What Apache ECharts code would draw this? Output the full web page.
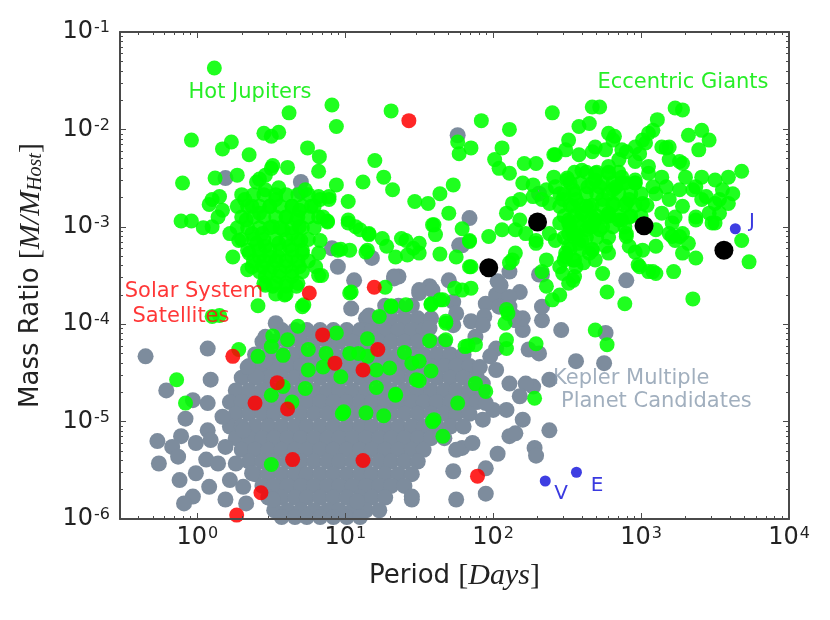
<!DOCTYPE html>
<html lang="en">
<head>
<meta charset="UTF-8">
<script src="https://cdn.jsdelivr.net/npm/echarts@6/dist/echarts.min.js"></script>
<style>
  html, body { margin: 0; padding: 0; background: #fff; }
  #chart { width: 830px; height: 620px; }
</style>
</head>
<body>
<div id="chart"></div>
<script>
// every pair is [log10(period in days), log10(mass ratio)]

// Kepler multiple planet candidates (grey)
var keplerCandidates = [
  [1.27,-3.81],[1.36,-3.81],[1.45,-3.81],
  [1.14,-3.94],[1.23,-3.94],[1.31,-3.94],[1.40,-3.94],[1.49,-3.94],[1.58,-3.94],
  [0.57,-4.06],[0.66,-4.06],[0.74,-4.06],[0.83,-4.06],[0.92,-4.06],[1.01,-4.06],[1.10,-4.06],[1.18,-4.06],[1.27,-4.06],[1.36,-4.06],[1.45,-4.06],[1.53,-4.06],
  [0.44,-4.18],[0.52,-4.18],[0.61,-4.18],[0.70,-4.18],[0.79,-4.18],[0.88,-4.18],[0.96,-4.18],[1.05,-4.18],[1.14,-4.18],[1.23,-4.18],[1.31,-4.18],[1.40,-4.18],[1.49,-4.18],[1.58,-4.18],[1.67,-4.18],
  [0.39,-4.31],[0.48,-4.31],[0.57,-4.31],[0.66,-4.31],[0.74,-4.31],[0.83,-4.31],[0.92,-4.31],[1.01,-4.31],[1.10,-4.31],[1.18,-4.31],[1.27,-4.31],[1.36,-4.31],[1.45,-4.31],[1.53,-4.31],[1.62,-4.31],[1.71,-4.31],[1.80,-4.31],
  [0.35,-4.43],[0.44,-4.43],[0.52,-4.43],[0.61,-4.43],[0.70,-4.43],[0.79,-4.43],[0.88,-4.43],[0.96,-4.43],[1.05,-4.43],[1.14,-4.43],[1.23,-4.43],[1.31,-4.43],[1.40,-4.43],[1.49,-4.43],[1.58,-4.43],[1.67,-4.43],[1.75,-4.43],[1.84,-4.43],
  [0.30,-4.55],[0.39,-4.55],[0.48,-4.55],[0.57,-4.55],[0.66,-4.55],[0.74,-4.55],[0.83,-4.55],[0.92,-4.55],[1.01,-4.55],[1.10,-4.55],[1.18,-4.55],[1.27,-4.55],[1.36,-4.55],[1.45,-4.55],[1.53,-4.55],[1.62,-4.55],[1.71,-4.55],[1.80,-4.55],[1.89,-4.55],
  [0.26,-4.68],[0.35,-4.68],[0.44,-4.68],[0.52,-4.68],[0.61,-4.68],[0.70,-4.68],[0.79,-4.68],[0.88,-4.68],[0.96,-4.68],[1.05,-4.68],[1.14,-4.68],[1.23,-4.68],[1.31,-4.68],[1.40,-4.68],[1.49,-4.68],[1.58,-4.68],[1.67,-4.68],[1.75,-4.68],[1.84,-4.68],[1.93,-4.68],
  [0.22,-4.80],[0.30,-4.80],[0.39,-4.80],[0.48,-4.80],[0.57,-4.80],[0.66,-4.80],[0.74,-4.80],[0.83,-4.80],[0.92,-4.80],[1.01,-4.80],[1.10,-4.80],[1.18,-4.80],[1.27,-4.80],[1.36,-4.80],[1.45,-4.80],[1.53,-4.80],[1.62,-4.80],[1.71,-4.80],[1.80,-4.80],[1.89,-4.80],
  [0.26,-4.92],[0.35,-4.92],[0.44,-4.92],[0.52,-4.92],[0.61,-4.92],[0.70,-4.92],[0.79,-4.92],[0.88,-4.92],[0.96,-4.92],[1.05,-4.92],[1.14,-4.92],[1.23,-4.92],[1.31,-4.92],[1.40,-4.92],[1.49,-4.92],[1.58,-4.92],[1.67,-4.92],[1.75,-4.92],[1.84,-4.92],
  [0.22,-5.05],[0.30,-5.05],[0.39,-5.05],[0.48,-5.05],[0.57,-5.05],[0.66,-5.05],[0.74,-5.05],[0.83,-5.05],[0.92,-5.05],[1.01,-5.05],[1.10,-5.05],[1.18,-5.05],[1.27,-5.05],[1.36,-5.05],[1.45,-5.05],[1.53,-5.05],[1.62,-5.05],[1.71,-5.05],[1.80,-5.05],
  [0.26,-5.17],[0.35,-5.17],[0.44,-5.17],[0.52,-5.17],[0.61,-5.17],[0.70,-5.17],[0.79,-5.17],[0.88,-5.17],[0.96,-5.17],[1.05,-5.17],[1.14,-5.17],[1.23,-5.17],[1.31,-5.17],[1.40,-5.17],[1.49,-5.17],[1.58,-5.17],[1.67,-5.17],
  [0.30,-5.29],[0.39,-5.29],[0.48,-5.29],[0.57,-5.29],[0.66,-5.29],[0.74,-5.29],[0.83,-5.29],[0.92,-5.29],[1.01,-5.29],[1.10,-5.29],[1.18,-5.29],[1.27,-5.29],[1.36,-5.29],[1.45,-5.29],[1.53,-5.29],
  [0.35,-5.41],[0.44,-5.41],[0.52,-5.41],[0.61,-5.41],[0.70,-5.41],[0.79,-5.41],[0.88,-5.41],[0.96,-5.41],[1.05,-5.41],[1.14,-5.41],[1.23,-5.41],[1.31,-5.41],[1.40,-5.41],[1.49,-5.41],
  [0.39,-5.54],[0.48,-5.54],[0.57,-5.54],[0.66,-5.54],[0.74,-5.54],[0.83,-5.54],[0.92,-5.54],[1.01,-5.54],[1.10,-5.54],[1.18,-5.54],[1.27,-5.54],[1.36,-5.54],[1.45,-5.54],
  [0.44,-5.66],[0.52,-5.66],[0.61,-5.66],[0.70,-5.66],[0.79,-5.66],[0.88,-5.66],[0.96,-5.66],[1.05,-5.66],[1.14,-5.66],[1.23,-5.66],[1.31,-5.66],[1.40,-5.66],
  [0.48,-5.78],[0.57,-5.78],[0.66,-5.78],[0.74,-5.78],[0.83,-5.78],[0.92,-5.78],[1.01,-5.78],[1.10,-5.78],[1.18,-5.78],[1.27,-5.78],
  [0.52,-5.91],[0.61,-5.91],[0.70,-5.91],[0.79,-5.91],[0.88,-5.91],[0.96,-5.91],[1.05,-5.91],[1.14,-5.91],[1.23,-5.91],
  [0.57,-5.98],[0.66,-5.98],[0.74,-5.98],[0.83,-5.98],[0.92,-5.98],[1.01,-5.98],[1.10,-5.98],
  // scattered candidates, left side
  [-0.35,-4.33],[0.07,-4.25],[0.09,-4.57],[-0.21,-4.68],[-0.03,-4.78],[0.07,-4.81],[-0.08,-4.97],[-0.27,-5.20],
  [-0.11,-5.15],[-0.17,-5.26],[-0.01,-5.22],[0.07,-5.09],[0.09,-5.19],[-0.26,-5.43],[-0.13,-5.36],[0.06,-5.39],
  [-0.01,-5.53],[-0.12,-5.60],[0.08,-5.67],[-0.03,-5.77],[-0.09,-5.84],[0.19,-5.80],[0.22,-5.60],[0.17,-4.95],
  [0.19,-5.26],[0.14,-5.43],[0.31,-5.09],[0.26,-5.43],[0.31,-5.67],[0.37,-5.53],[0.51,-5.80],[0.33,-5.84],
  [0.40,-4.54],[0.34,-4.44],[0.46,-4.37],[0.53,-3.99],[0.46,-4.13],[1.04,-3.84],[1.08,-5.82],
  // scattered candidates, right side
  [1.73,-5.51],[1.95,-5.48],[1.95,-5.74],[1.75,-5.80],[1.45,-5.80],[1.79,-5.27],[2.03,-5.33],[2.11,-5.15],
  [2.15,-5.12],[2.38,-5.09],[2.28,-5.27],[2.29,-5.35],[2.56,-4.38],[2.75,-4.40],[2.46,-4.06],[2.76,-4.09],
  [2.38,-4.57],[2.27,-4.64],[2.24,-4.26],[2.31,-4.30],[2.20,-4.06],[2.15,-3.96],[2.11,-3.82],[1.95,-3.79],
  [2.33,-3.96],[2.20,-3.94],[2.33,-3.82],[2.18,-3.67],[2.03,-3.56],[2.02,-3.70],[2.11,-3.72],[2.11,-3.46],
  [2.14,-3.92],[2.04,-3.82],[1.94,-3.92],[1.85,-3.97],[1.93,-4.01],[1.73,-4.01],[1.57,-4.04],[1.73,-3.77],
  [1.75,-3.89],[1.50,-3.68],[1.57,-3.61],[1.70,-3.55],[1.79,-3.19],[1.36,-3.51],[1.88,-4.13],[2.02,-4.25],
  [1.98,-4.33],[1.91,-4.44],[2.02,-4.47],[1.93,-4.61],[2.11,-4.61],[2.22,-4.61],[2.18,-4.74],[2.09,-4.88],
  [2.00,-4.88],[2.20,-4.98],[1.95,-4.81],[1.93,-4.98],[1.86,-5.22],[1.75,-5.29],[1.45,-5.77],[1.33,-3.51],
  [1.50,-3.65],[1.59,-3.65],[2.31,-3.49],[1.06,-3.55],[2.05,-3.60],
  // candidates among the giants
  [1.76,-2.06],[1.84,-2.91],[1.77,-3.19],[2.31,-2.66],[2.33,-3.49],[2.90,-3.55],[0.19,-2.50],[0.70,-2.54],
  [0.70,-2.64],[0.91,-3.22],[0.95,-3.41],[1.18,-3.32],[1.33,-3.53],[1.16,-3.91]
];

// radial velocity planets (green)
var rvPlanets = [
  [0.115,-1.37],[0.91,-1.75],[0.62,-1.83],[0.94,-1.97],[1.31,-1.81],[-0.04,-2.11],[0.23,-2.13],[0.17,-2.20],
  [0.45,-2.04],[0.55,-2.03],[0.50,-2.07],[0.35,-2.26],[0.745,-2.19],[0.825,-2.28],[0.82,-2.43],[1.20,-2.32],
  [1.26,-2.49],[1.12,-2.54],[1.32,-2.62],[0.94,-2.57],[0.61,-2.39],[0.51,-2.37],[-0.10,-2.55],[0.12,-2.50],
  [0.27,-2.47],[0.40,-2.54],[0.46,-2.47],[1.02,-2.74],[1.47,-2.74],[-0.11,-2.94],[-0.04,-2.94],[0.04,-3.01],
  [0.08,-2.77],[0.15,-2.69],[0.22,-3.07],[0.24,-3.31],[0.34,-3.44],[0.41,-3.81],[0.59,-3.70],[0.72,-3.80],
  [0.89,-2.72],[1.02,-2.93],[1.10,-3.03],[1.16,-3.08],[1.25,-3.12],[1.28,-3.20],[1.38,-3.12],[1.34,-3.31],
  [1.15,-3.24],[0.97,-3.23],[1.46,-3.22],[1.03,-3.68],[1.27,-3.62],[1.31,-3.81],[1.41,-3.80],[0.84,-3.50],
  [0.83,-3.14],[0.88,-2.94],[0.83,-2.72],
  [0.42,-2.51],[0.50,-2.40],[0.10,-2.72],[0.17,-2.83],[0.14,-2.90],[0.10,-3.00],[0.32,-2.72],[0.37,-2.79],
  [0.46,-2.62],[0.55,-2.60],[0.53,-2.72],[0.64,-2.79],[0.73,-2.62],[0.77,-2.79],[0.82,-2.69],[0.89,-2.69],
  [0.85,-2.90],[0.88,-2.95],[0.67,-2.93],[0.60,-2.90],[0.42,-2.86],[0.33,-2.93],[0.37,-3.07],[0.44,-3.07],
  [0.51,-3.00],[0.58,-3.03],[0.64,-3.07],[0.69,-3.00],[0.70,-3.14],[0.62,-3.20],[0.55,-3.17],[0.46,-3.20],
  [0.40,-3.17],[0.35,-3.27],[0.42,-3.31],[0.49,-3.31],[0.55,-3.31],[0.64,-3.31],[0.71,-3.27],[0.82,-3.27],
  [0.80,-3.41],[0.69,-3.41],[0.60,-3.41],[0.51,-3.41],[0.44,-3.41],[0.46,-3.51],[0.55,-3.51],[0.64,-3.51],
  [0.60,-3.61],[0.51,-3.61],[0.46,-3.60],[0.67,-3.61],[0.28,-3.14],[0.37,-3.41],[0.69,-2.83],[0.49,-2.79],
  [0.95,-3.24],[1.03,-3.24],[1.07,-3.00],[0.82,-3.50],
  // dense hot Jupiter core
  [0.30,-2.67],[0.38,-2.67],[0.45,-2.67],[0.53,-2.67],[0.60,-2.67],[0.68,-2.67],[0.75,-2.67],
  [0.27,-2.79],[0.34,-2.79],[0.42,-2.79],[0.49,-2.79],[0.56,-2.79],[0.64,-2.79],[0.71,-2.79],[0.79,-2.79],
  [0.30,-2.90],[0.38,-2.90],[0.45,-2.90],[0.53,-2.90],[0.60,-2.90],[0.68,-2.90],[0.75,-2.90],[0.82,-2.90],
  [0.27,-3.01],[0.34,-3.01],[0.42,-3.01],[0.49,-3.01],[0.56,-3.01],[0.64,-3.01],[0.71,-3.01],[0.79,-3.01],
  [0.30,-3.13],[0.38,-3.13],[0.45,-3.13],[0.53,-3.13],[0.60,-3.13],[0.68,-3.13],[0.75,-3.13],
  [0.34,-3.24],[0.42,-3.24],[0.49,-3.24],[0.56,-3.24],[0.64,-3.24],[0.71,-3.24],
  [0.38,-3.35],[0.45,-3.35],[0.53,-3.35],[0.60,-3.35],[0.68,-3.35],[0.75,-3.35],
  [0.42,-3.46],[0.49,-3.46],[0.56,-3.46],[0.64,-3.46],[0.71,-3.46],
  [0.45,-3.58],[0.53,-3.58],[0.60,-3.58],[0.68,-3.58],
  [0.53,-3.69],[0.60,-3.69],
  // between the groups and eccentric giants
  [1.92,-1.91],[2.11,-2.00],[2.40,-1.83],[1.76,-2.13],[1.77,-2.25],[1.85,-2.19],[2.06,-2.19],[2.01,-2.31],
  [2.04,-2.40],[2.11,-2.45],[2.21,-2.35],[2.29,-2.35],[2.20,-2.55],[2.27,-2.57],[2.41,-2.26],[2.41,-2.49],
  [2.50,-2.52],[1.73,-2.57],[1.64,-2.66],[1.56,-2.76],[1.70,-2.86],[1.59,-2.98],[1.61,-3.08],[1.64,-3.28],
  [1.75,-3.31],[1.79,-3.02],[1.84,-3.14],[1.85,-3.41],[1.97,-3.10],[2.06,-3.03],[2.09,-2.86],[2.13,-2.76],
  [2.18,-2.93],[2.22,-3.07],[2.11,-3.37],[2.15,-3.27],[2.29,-3.14],[2.36,-3.34],[2.36,-3.61],[2.40,-3.75],
  [1.79,-3.65],[1.66,-3.75],[1.58,-3.79],[2.10,-3.89],[2.47,-3.48],[2.42,-3.14],[2.51,-3.07],[2.67,-1.77],
  [2.72,-1.77],[2.58,-1.97],[2.51,-2.11],[2.69,-2.18],[2.78,-2.04],[2.82,-2.07],[2.87,-2.21],[2.78,-2.38],
  [2.60,-2.42],[2.69,-2.52],[2.87,-2.49],[2.96,-2.18],[3.01,-2.11],[3.05,-2.04],[3.11,-1.90],[3.23,-1.78],
  [3.28,-1.80],[3.32,-2.06],[3.41,-2.01],[3.46,-2.11],[3.39,-2.21],[3.14,-2.18],[3.19,-2.18],[3.28,-2.35],
  [3.19,-2.31],[3.14,-2.49],[3.05,-2.45],[2.96,-2.55],[3.30,-2.49],[3.37,-2.59],[3.41,-2.49],[3.50,-2.52],
  [3.59,-2.49],[3.68,-2.43],[3.62,-2.66],[3.55,-2.62],[3.59,-2.76],[3.50,-2.76],[3.41,-2.72],[3.46,-2.86],
  [3.37,-2.90],[3.28,-2.79],[3.23,-2.90],[3.19,-2.72],[3.10,-2.66],[3.14,-2.86],[3.28,-3.07],[3.23,-3.14],
  [3.19,-3.07],[3.28,-3.27],[3.37,-3.32],[3.32,-3.17],[3.10,-3.03],[3.10,-3.20],[3.01,-3.24],[2.92,-3.20],
  [2.90,-3.07],[2.87,-2.93],[3.50,-2.96],[3.68,-3.14],[3.73,-3.36],[3.35,-3.74],[3.22,-3.46],[3.10,-3.48],
  [3.05,-3.46],[2.99,-3.41],[2.89,-3.79],[2.77,-3.67],[2.74,-3.48],[2.69,-3.34],[2.78,-3.27],[2.65,-3.27],
  [2.60,-3.14],[2.51,-2.93],[2.56,-2.72],[2.65,-2.79],[2.74,-2.72],[2.78,-2.86],[2.69,-2.93],[2.60,-2.86],
  [2.47,-2.72],[2.42,-2.59],[2.38,-2.76],[2.33,-2.72],[2.49,-3.27],[2.56,-3.41],[2.51,-3.58],[2.83,-2.59],
  [2.92,-2.72],[3.01,-2.76],[2.65,-3.00],[2.56,-3.07],
  [2.65,-1.94],[2.81,-2.11],[3.08,-2.01],[3.03,-2.14],[3.17,-2.19],[2.99,-2.25],[2.90,-2.23],[2.76,-2.21],
  [2.67,-2.23],[2.58,-2.26],[2.49,-2.21],[2.42,-2.26],[2.50,-2.50],[2.69,-2.45],[2.78,-2.45],[2.85,-2.31],
  [2.96,-2.33],[3.05,-2.38],[3.26,-2.33],[3.53,-2.72],[3.44,-2.69],[3.35,-2.62],[3.26,-2.62],[3.17,-2.59],
  [3.08,-2.59],[2.96,-2.52],[2.87,-2.55],[2.81,-2.62],[2.72,-2.59],[2.64,-2.59],[2.54,-2.62],[2.45,-2.66],
  [2.36,-2.62],[2.27,-2.69],[2.18,-2.72],[2.15,-3.03],[2.29,-3.17],[2.38,-3.07],[2.45,-2.96],[2.45,-2.79],
  [2.54,-2.79],[2.63,-2.79],[2.81,-2.76],[2.90,-2.76],[2.92,-2.90],[2.85,-2.93],[2.76,-2.90],[2.67,-2.90],
  [2.58,-2.93],[2.51,-2.96],[2.54,-3.07],[2.63,-3.03],[2.72,-3.03],[2.58,-3.17],[2.51,-3.20],[2.49,-3.31],
  [2.45,-3.41],[2.33,-3.46],[2.54,-3.34],[2.67,-3.24],[2.76,-3.20],[2.90,-3.10],[2.96,-3.26],[3.21,-3.10],
  [3.21,-2.96],[3.26,-3.10],[3.48,-2.96],[3.37,-2.93],[3.53,-2.86],[2.98,-3.39],[3.08,-3.46],[2.55,-3.51],
  // dense eccentric giant core
  [2.55,-2.44],[2.63,-2.44],[2.70,-2.44],[2.78,-2.44],[2.85,-2.44],
  [2.52,-2.55],[2.59,-2.55],[2.67,-2.55],[2.74,-2.55],[2.81,-2.55],[2.89,-2.55],[2.96,-2.55],
  [2.48,-2.66],[2.55,-2.66],[2.63,-2.66],[2.70,-2.66],[2.78,-2.66],[2.85,-2.66],[2.93,-2.66],[3.00,-2.66],
  [2.52,-2.78],[2.59,-2.78],[2.67,-2.78],[2.74,-2.78],[2.81,-2.78],[2.89,-2.78],[2.96,-2.78],[3.04,-2.78],
  [2.48,-2.89],[2.55,-2.89],[2.63,-2.89],[2.70,-2.89],[2.78,-2.89],[2.85,-2.89],[2.93,-2.89],[3.00,-2.89],
  [2.52,-3.00],[2.59,-3.00],[2.67,-3.00],[2.74,-3.00],[2.81,-3.00],[2.89,-3.00],
  [2.48,-3.11],[2.55,-3.11],[2.63,-3.11],[2.70,-3.11],[2.78,-3.11],
  [2.52,-3.23],[2.59,-3.23],[2.67,-3.23],
  [2.48,-3.34],[2.55,-3.34],
  // lower mass planets among the Kepler candidates
  [0.71,-3.82],[0.68,-4.02],[0.51,-4.12],[0.61,-4.16],[0.50,-4.23],[0.28,-4.26],[0.41,-4.33],[0.58,-4.32],
  [0.75,-4.26],[0.75,-4.47],[0.87,-4.30],[0.94,-4.09],[1.03,-4.30],[0.85,-4.44],[0.97,-4.54],[0.73,-4.66],
  [0.58,-4.64],[0.50,-4.73],[0.64,-4.80],[-0.14,-4.57],[-0.08,-4.81],[0.99,-4.90],[0.50,-5.44],[0.15,-3.91],
  [0.10,-3.92],[1.15,-4.15],[1.23,-3.92],[1.31,-3.82],[1.40,-4.29],[1.30,-4.45],[1.21,-4.65],[1.34,-4.73],
  [1.14,-4.91],[1.26,-4.94],[0.98,-4.92],[1.09,-4.30],[1.48,-4.57],[1.15,-4.33],[1.45,-4.40],[1.50,-4.38],
  [1.58,-4.48],[1.57,-4.17],[1.68,-4.16],[1.68,-3.99],[1.83,-4.22],[1.88,-4.21],[1.88,-4.61],[1.95,-4.69],
  [1.76,-4.81],[1.59,-5.00],[1.66,-5.15],[1.50,-4.58],[1.34,-4.72],[1.21,-4.47],
  [1.02,-2.96],[1.16,-3.07],[1.50,-3.17],[1.14,-3.26],[1.42,-3.29],[1.50,-3.27],[1.60,-2.98],[1.84,-3.15],
  [2.13,-3.34],[2.45,-3.70],[2.54,-3.55],[2.61,-3.37],[1.84,-3.41],[1.85,-3.63],[1.74,-3.63],[1.64,-3.75],
  [1.58,-3.80],[1.04,-3.67],[1.68,-3.97],[2.09,-3.85],[2.09,-4.16],[2.09,-4.25],[1.81,-4.23],[2.29,-4.20],
  [2.28,-4.76],[1.60,-4.98],[1.41,-3.14],[2.69,-4.06],[2.77,-4.21],[2.08,-3.99]
];

// solar system satellites (red)
var satellites = [
  [1.43,-1.91],[0.757,-3.68],[1.196,-3.62],[0.847,-4.11],[0.24,-4.33],[0.93,-4.40],[0.54,-4.60],[0.39,-4.81],
  [0.61,-4.87],[0.644,-5.39],[0.43,-5.73],[0.266,-5.96],[1.22,-4.26],[1.12,-4.47],[1.12,-5.40],[1.894,-5.56]
];

// large black markers
var blackPlanets = [[1.97,-3.42],[2.30,-2.95],[3.02,-2.99],[3.56,-3.24]];

// Venus, Earth, Jupiter (blue)
var solarPlanets = [[2.352,-5.61],[2.563,-5.52],[3.637,-3.02]];

var periodDecades = [1, 10, 100, 1000, 10000];
var massDecades = [1e-6, 1e-5, 1e-4, 1e-3, 1e-2, 1e-1];
var periodMin = 0.3, periodMax = 1e4;
var massMin = 1e-6, massMax = 0.1;

var chart = echarts.init(document.getElementById('chart'));

function toValues(pairs) {
  return pairs.map(function (p) { return [Math.pow(10, p[0]), Math.pow(10, p[1])]; });
}

// minor ticks 2..9 of each decade, in log10 units
function minorLogs(decades, lo, hi) {
  var out = [];
  decades.forEach(function (d) {
    for (var k = 2; k < 10; k++) {
      var v = Math.log10(d * k);
      if (v > lo + 1e-6 && v < hi - 1e-6) out.push(v);
    }
  });
  return out;
}

function decadeLabel(v) {
  var e = Math.log10(v), r = Math.round(e);
  if (Math.abs(e - r) > 1e-4) return '';
  return '{b|10}{e|' + r + '}';
}

var FONT = 'DejaVu Sans';
var SERIF = 'Liberation Serif';
var labelRich = {
  b: { fontFamily: FONT, fontSize: 24, color: '#222', lineHeight: 24, verticalAlign: 'bottom' },
  e: { fontFamily: FONT, fontSize: 16, color: '#222', lineHeight: 16, verticalAlign: 'top', padding: [0, 0, 14, 1] }
};
var nameRich = {
  n: { fontFamily: FONT, fontSize: 26, color: '#222' },
  m: { fontFamily: SERIF, fontSize: 30, color: '#222' },
  i: { fontFamily: SERIF, fontSize: 30, fontStyle: 'italic', color: '#222' },
  s: { fontFamily: SERIF, fontSize: 20, fontStyle: 'italic', color: '#222', verticalAlign: 'bottom', lineHeight: 20, padding: [12, 0, 0, 0] }
};

var lineStyle = { color: '#4a4a4a', width: 2 };
var xLo = Math.log10(periodMin), xHi = Math.log10(periodMax);
var yLo = Math.log10(massMin), yHi = Math.log10(massMax);
var xMajor = periodDecades.map(Math.log10);
var yMajor = massDecades.map(Math.log10);
var xMinor = minorLogs([0.1, 1, 10, 100, 1000], xLo, xHi);
var yMinor = minorLogs([1e-6, 1e-5, 1e-4, 1e-3, 1e-2], yLo, yHi);

function tickAxis(pos, lo, hi, values, len, showLine) {
  return {
    type: 'value', position: pos, min: lo, max: hi, z: 10,
    axisLine: { show: showLine, onZero: false, lineStyle: lineStyle },
    axisTick: { show: true, inside: true, length: len, customValues: values, lineStyle: { color: '#4a4a4a', width: 1 } },
    axisLabel: { show: false }, splitLine: { show: false }
  };
}

var option = {
  animation: false,
  backgroundColor: '#fff',
  grid: { left: 120, top: 32, width: 669, height: 487, containLabel: false },
  xAxis: [
    {
      type: 'log', logBase: 10, min: periodMin, max: periodMax, position: 'bottom', z: 10,
      name: '{n|Period }{m|[}{i|Days}{m|]}', nameLocation: 'middle', nameGap: 33,
      nameTextStyle: { rich: nameRich },
      axisLine: { show: true, onZero: false, lineStyle: lineStyle },
      axisTick: { show: false },
      axisLabel: { formatter: decadeLabel, rich: labelRich, margin: 7, showMinLabel: true, showMaxLabel: true },
      splitLine: { show: false }, minorTick: { show: false }
    },
    tickAxis('bottom', xLo, xHi, xMajor, 6, false),
    tickAxis('bottom', xLo, xHi, xMinor, 3, false),
    tickAxis('top', xLo, xHi, xMajor, 6, true),
    tickAxis('top', xLo, xHi, xMinor, 3, false)
  ],
  yAxis: [
    {
      type: 'log', logBase: 10, min: massMin, max: massMax, position: 'left', z: 10,
      name: '{n|Mass Ratio }{m|[}{i|M/M}{s|Host}{m|]}', nameLocation: 'middle', nameGap: 74,
      nameTextStyle: { rich: nameRich },
      axisLine: { show: true, onZero: false, lineStyle: lineStyle },
      axisTick: { show: false },
      axisLabel: { formatter: decadeLabel, rich: labelRich, margin: 10, showMinLabel: true, showMaxLabel: true },
      splitLine: { show: false }, minorTick: { show: false }
    },
    tickAxis('left', yLo, yHi, yMajor, 6, false),
    tickAxis('left', yLo, yHi, yMinor, 3, false),
    tickAxis('right', yLo, yHi, yMajor, 6, true),
    tickAxis('right', yLo, yHi, yMinor, 3, false)
  ],
  series: [
    {
      name: 'Kepler', type: 'scatter', data: toValues(keplerCandidates), symbolSize: 16,
      itemStyle: { color: '#7d8c9d', opacity: 1 }, z: 2
    },
    {
      name: 'RV planets', type: 'scatter', data: toValues(rvPlanets), symbolSize: 15,
      itemStyle: { color: '#00ff00', opacity: 0.88 }, z: 3
    },
    {
      name: 'Satellites', type: 'scatter', data: toValues(satellites), symbolSize: 15,
      itemStyle: { color: '#ff0000', opacity: 0.85 }, z: 4
    },
    {
      name: 'Black', type: 'scatter', data: toValues(blackPlanets), symbolSize: 19,
      itemStyle: { color: '#000', opacity: 1 }, z: 5
    },
    {
      name: 'Solar planets', type: 'scatter', data: toValues(solarPlanets), symbolSize: 11,
      itemStyle: { color: '#3434e0', opacity: 0.95 }, z: 6
    }
  ],
  graphic: [
    { type: 'text', x: 250, y: 93, z: 20, style: { text: 'Hot Jupiters', fill: 'rgba(0,235,0,0.85)', font: '21px "DejaVu Sans"', align: 'center', verticalAlign: 'middle' } },
    { type: 'text', x: 683, y: 83, z: 20, style: { text: 'Eccentric Giants', fill: 'rgba(0,235,0,0.85)', font: '21px "DejaVu Sans"', align: 'center', verticalAlign: 'middle' } },
    { type: 'text', x: 194, y: 292, z: 20, style: { text: 'Solar System', fill: 'rgba(255,20,20,0.85)', font: '21px "DejaVu Sans"', align: 'center', verticalAlign: 'middle' } },
    { type: 'text', x: 181, y: 317, z: 20, style: { text: 'Satellites', fill: 'rgba(255,20,20,0.85)', font: '21px "DejaVu Sans"', align: 'center', verticalAlign: 'middle' } },
    { type: 'text', x: 553, y: 379, z: 20, style: { text: 'Kepler Multiple', fill: 'rgba(130,148,168,0.75)', font: '21px "DejaVu Sans"', align: 'left', verticalAlign: 'middle' } },
    { type: 'text', x: 561, y: 402, z: 20, style: { text: 'Planet Candidates', fill: 'rgba(130,148,168,0.75)', font: '21px "DejaVu Sans"', align: 'left', verticalAlign: 'middle' } },
    { type: 'text', x: 561, y: 494, z: 20, style: { text: 'V', fill: '#3a3ae0', font: '20px "DejaVu Sans"', align: 'center', verticalAlign: 'middle' } },
    { type: 'text', x: 597, y: 486, z: 20, style: { text: 'E', fill: '#3a3ae0', font: '20px "DejaVu Sans"', align: 'center', verticalAlign: 'middle' } },
    { type: 'text', x: 752, y: 222, z: 20, style: { text: 'J', fill: '#3a3ae0', font: '20px "DejaVu Sans"', align: 'center', verticalAlign: 'middle' } }
  ]
};

chart.setOption(option);
</script>
</body>
</html>
